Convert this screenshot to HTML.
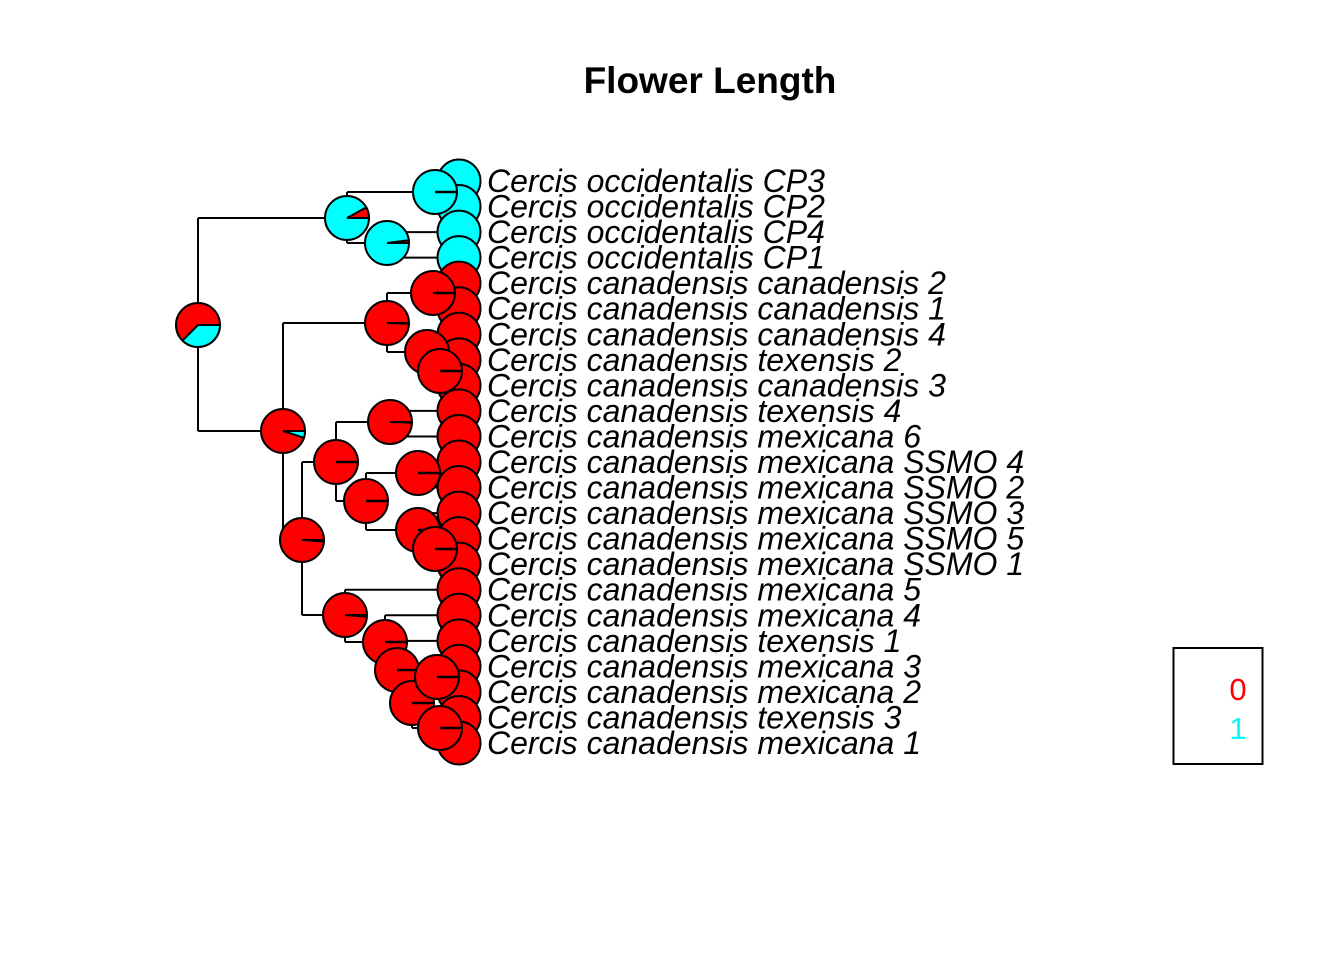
<!DOCTYPE html>
<html><head><meta charset="utf-8"><style>
html,body{margin:0;padding:0;background:#fff;}
svg{display:block;}
</style></head><body>
<svg id="chart" width="1344" height="960" viewBox="0 0 1344 960" xmlns="http://www.w3.org/2000/svg">
<text x="710" y="93" text-anchor="middle" font-family="Liberation Sans, sans-serif" font-weight="bold" font-size="37">Flower Length</text>
<g id="edges"></g><g id="tips"></g><g id="nodes"></g><g id="labels"></g>
<rect x="1173.5" y="648" width="89" height="116" fill="none" stroke="#000" stroke-width="2"/>
<text x="1238" y="700" text-anchor="middle" font-family="Liberation Sans, sans-serif" font-size="31" fill="#ff0000">0</text>
<text x="1238" y="739" text-anchor="middle" font-family="Liberation Sans, sans-serif" font-size="31" fill="#00ffff">1</text>
</svg>
<script>
const tipNames = ["Cercis occidentalis CP3","Cercis occidentalis CP2","Cercis occidentalis CP4","Cercis occidentalis CP1","Cercis canadensis canadensis 2","Cercis canadensis canadensis 1","Cercis canadensis canadensis 4","Cercis canadensis texensis 2","Cercis canadensis canadensis 3","Cercis canadensis texensis 4","Cercis canadensis mexicana 6","Cercis canadensis mexicana SSMO 4","Cercis canadensis mexicana SSMO 2","Cercis canadensis mexicana SSMO 3","Cercis canadensis mexicana SSMO 5","Cercis canadensis mexicana SSMO 1","Cercis canadensis mexicana 5","Cercis canadensis mexicana 4","Cercis canadensis texensis 1","Cercis canadensis mexicana 3","Cercis canadensis mexicana 2","Cercis canadensis texensis 3","Cercis canadensis mexicana 1"];
const tipState = [1,1,1,1,0,0,0,0,0,0,0,0,0,0,0,0,0,0,0,0,0,0,0];
const nodeIds = ["root","A","CP32","B","C","D","E","F","G","H","I","J","K","L","M","N","O","P","Q","S","R","T"];
const nodeCyanProb = [0.375,0.92,1.0,0.98,0.05,0.005,0,0,0,0.01,0,0.005,0,0,0,0,0.012,0,0,0,0,0];
const nodeChildren = {root:["A","C"],A:["CP32","B"],CP32:[0,1],B:[2,3],C:["D","H"],D:["E","F"],E:[4,5],F:[6,"G"],G:[7,8],H:["I","O"],I:["J","K"],J:[9,10],K:["L","M"],L:[11,12],M:[13,"N"],N:[14,15],O:[16,"P"],P:[17,"Q"],Q:[18,"S"],S:["R","T"],R:[19,20],T:[21,22]};
// layout (pixel positions of nodes, not data)
const nodePos = {root:[198,325],A:[347,218],CP32:[435,192],B:[387,243],C:[283,431],D:[387,323],E:[433,293],F:[427,352],G:[440,371],H:[302,540],I:[336,462],J:[390,422],K:[366,501],L:[418,473],M:[418,530],N:[435,549],O:[345,615],P:[385,642],Q:[397,670],S:[412,703],R:[437,677],T:[440,728]};
const NS="http://www.w3.org/2000/svg";
const tipX=459, y0=181, step=(743-181)/22;
function tipY(i){return y0+i*step;}
function pos(k){return typeof k==="number"?[tipX,tipY(k)]:nodePos[k];}
const gE=document.getElementById('edges'),gT=document.getElementById('tips'),gN=document.getElementById('nodes'),gL=document.getElementById('labels');
function line(x1,y1,x2,y2,name){const l=document.createElementNS(NS,'line');l.setAttribute('x1',x1);l.setAttribute('y1',y1);l.setAttribute('x2',x2);l.setAttribute('y2',y2);l.setAttribute('stroke','#000');l.setAttribute('stroke-width','2');


gE.appendChild(l);}
for(const k in nodeChildren){const p=nodePos[k];const ys=nodeChildren[k].map(c=>pos(c)[1]);
line(p[0],Math.min(...ys),p[0],Math.max(...ys),'branch-vertical-'+k);
nodeChildren[k].forEach(c=>{const q=pos(c);line(p[0],q[1],q[0],q[1],'branch-'+c);});}
line(198,325,185,325,'root-stub');
const colors=["#ff0000","#00ffff"];
function pie(g,cx,cy,r,f1,name,drawLine){
const grp=document.createElementNS(NS,'g');


const f0=1-f1;
const c=document.createElementNS(NS,'circle');c.setAttribute('cx',cx);c.setAttribute('cy',cy);c.setAttribute('r',r);c.setAttribute('fill',f0>=0.5?colors[0]:colors[1]);c.setAttribute('stroke','#000');c.setAttribute('stroke-width','2');grp.appendChild(c);
if(f0>0.0001&&f1>0.0001){const minor=f0<0.5?0:1;const a1=minor===0?0:2*Math.PI*f0;const a2=minor===0?2*Math.PI*f0:2*Math.PI;
const large=(a2-a1)>Math.PI?1:0;const p=document.createElementNS(NS,'path');
const x1=cx+r*Math.cos(a1),y1=cy-r*Math.sin(a1),x2=cx+r*Math.cos(a2),y2=cy-r*Math.sin(a2);
p.setAttribute('d',`M${cx},${cy}L${x1},${y1}A${r},${r} 0 ${large} 0 ${x2},${y2}Z`);p.setAttribute('fill',colors[minor]);p.setAttribute('stroke','#000');p.setAttribute('stroke-width','2');grp.appendChild(p);}
else if(drawLine){const l=document.createElementNS(NS,'line');l.setAttribute('x1',cx);l.setAttribute('y1',cy);l.setAttribute('x2',cx+r);l.setAttribute('y2',cy);l.setAttribute('stroke','#000');l.setAttribute('stroke-width','2.5');grp.appendChild(l);}
g.appendChild(grp);}
tipNames.forEach((n,i)=>{pie(gT,tipX,tipY(i),21.5,tipState[i],'tip-pie-'+i,false);
const t=document.createElementNS(NS,'text');t.setAttribute('x',487);t.setAttribute('y',tipY(i)+11);t.setAttribute('font-family','Liberation Sans, sans-serif');t.setAttribute('font-style','italic');t.setAttribute('font-size','32');t.textContent=n;


gL.appendChild(t);});
nodeIds.forEach((k,i)=>{const p=nodePos[k];pie(gN,p[0],p[1],22,nodeCyanProb[i],'node-pie-'+k,true);});
</script>
</body></html>
